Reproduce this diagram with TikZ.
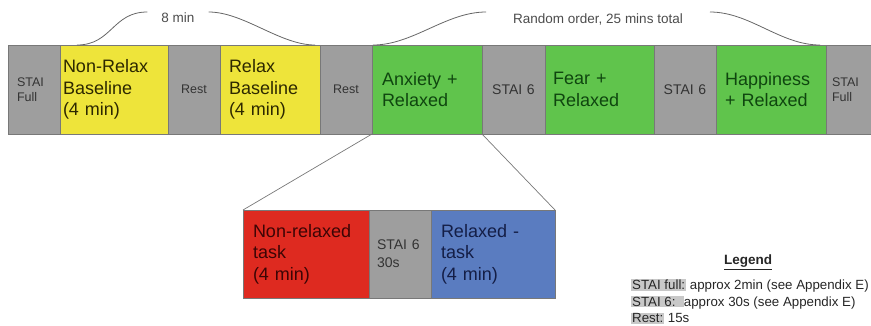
\documentclass[tikz,border=0pt]{standalone}
\usepackage{fontspec}
\setmainfont{Liberation Sans}
\usepackage{xcolor}
\usetikzlibrary{positioning,calc}
\definecolor{stgray}{RGB}{158,158,158}
\definecolor{styellow}{RGB}{238,228,58}
\definecolor{stgreen}{RGB}{96,196,76}
\definecolor{stred}{RGB}{222,42,32}
\definecolor{stblue}{RGB}{90,124,192}
\definecolor{segline}{RGB}{120,120,120}
\definecolor{hlgray}{RGB}{200,200,200}
\definecolor{yellowtxt}{RGB}{45,40,0}
\definecolor{greentxt}{RGB}{15,70,15}
\definecolor{redtxt}{RGB}{60,5,5}
\definecolor{bluetxt}{RGB}{20,30,70}
\setlength{\fboxsep}{1pt}

\begin{document}
\begin{tikzpicture}[
    x=1pt, y=-1pt,
    node distance=0pt,
    seg/.style={rectangle, draw=segline, line width=0.6pt, minimum height=89pt, inner ysep=0pt, outer sep=0pt},
    pause/.style={seg, fill=stgray, text=black!80, inner xsep=0pt, text width=#1, align=center, font=\fontsize{12.5}{14.5}\selectfont},
    cond/.style={seg, inner xsep=9pt, text width=#1, align=left, font=\fontsize{18}{21.5}\selectfont},
    zoomline/.style={draw=segline, line width=0.7pt},
    brace/.style={draw=black!60, line width=0.8pt},
    toplbl/.style={font=\fontsize{13.5}{16}\selectfont, text=black!70, inner ysep=0pt},
    legtext/.style={font=\fontsize{13.3}{16.5}\selectfont, align=left, text=black!85, inner sep=0pt}
]
\useasboundingbox (0,0) rectangle (871,325);

% Session bar
\node[pause=34pt, inner xsep=9pt, align=left, anchor=north west] (stai1) at (8,45) {STAI\\Full};
\node[cond=102pt, inner xsep=3pt, fill=styellow, text=yellowtxt, right=of stai1] (nrb) {Non-Relax\\Baseline\\(4 min)};
\node[pause=52pt, right=of nrb] (rest1) {Rest};
\node[cond=82pt, fill=styellow, text=yellowtxt, right=of rest1] (rb) {Relax\\Baseline\\(4 min)};
\node[pause=52pt, right=of rb] (rest2) {Rest};
\node[cond=90pt, inner xsep=10pt, fill=stgreen, text=greentxt, right=of rest2] (anx) {Anxiety +\\Relaxed};
\node[pause=63pt, font=\fontsize{14}{16}\selectfont, right=of anx] (s6a) {STAI 6};
\node[cond=93pt, inner xsep=8pt, fill=stgreen, text=greentxt, right=of s6a] (fear) {Fear +\\Relaxed};
\node[pause=62pt, font=\fontsize{14}{16}\selectfont, right=of fear] (s6b) {STAI 6};
\node[cond=92pt, fill=stgreen, text=greentxt, right=of s6b] (hap) {Happiness\\+ Relaxed};
\node[pause=34pt, inner xsep=6pt, align=left, right=of hap] (stai2) {STAI\\Full};

% Block detail
\node[cond=106pt, inner xsep=10pt, minimum height=88pt, fill=stred, text=redtxt, anchor=north west] (nrt) at (243,210) {Non-relaxed\\task\\(4 min)};
\node[pause=46pt, inner xsep=8pt, align=left, minimum height=88pt, font=\fontsize{14}{18}\selectfont, right=of nrt] (s6c) {STAI 6\\30s};
\node[cond=104pt, inner xsep=10pt, minimum height=88pt, fill=stblue, text=bluetxt, right=of s6c] (rt) {Relaxed -\\task\\(4 min)};

\draw[zoomline] (anx.south west) -- (nrt.north west);
\draw[zoomline] (anx.south east) -- (rt.north east);

% Braces
\node[toplbl, inner xsep=14pt] (lbl8) at (178,18) {8 min};
\node[toplbl, inner xsep=27pt] (lblrand) at (598,19) {Random order, 25 mins total};
\coordinate (b8s) at ($(nrb.north west)+(17,0)$);
\coordinate (b8e) at ($(rb.north east)+(-5,0)$);
\coordinate (brs) at ($(anx.north west)+(1,0)$);
\coordinate (bre) at ($(hap.north east)+(-6,0)$);
\draw[brace] (b8s) .. controls +(35,0) and +(-35,0) .. ($(lbl8.west)+(0,-6)$);
\draw[brace] ($(lbl8.east)+(0,-6)$) .. controls +(35,0) and +(-35,0) .. (b8e);
\draw[brace] (brs) .. controls +(40,0) and +(-40,0) .. ($(lblrand.west)+(0,-7)$);
\draw[brace] ($(lblrand.east)+(0,-7)$) .. controls +(40,0) and +(-40,0) .. (bre);

% Legend
\node[font=\bfseries\fontsize{13.5}{16}\selectfont, text=black!85] (leg) at (748,262) {\underline{Legend}};
\node[legtext, anchor=west] (legbody) at (631,301.5) {\colorbox{hlgray}{STAI full:} approx 2min (see Appendix E)\\\colorbox{hlgray}{STAI 6:\ \ }approx 30s (see Appendix E)\\\colorbox{hlgray}{Rest:} 15s};

\end{tikzpicture}
\end{document}
